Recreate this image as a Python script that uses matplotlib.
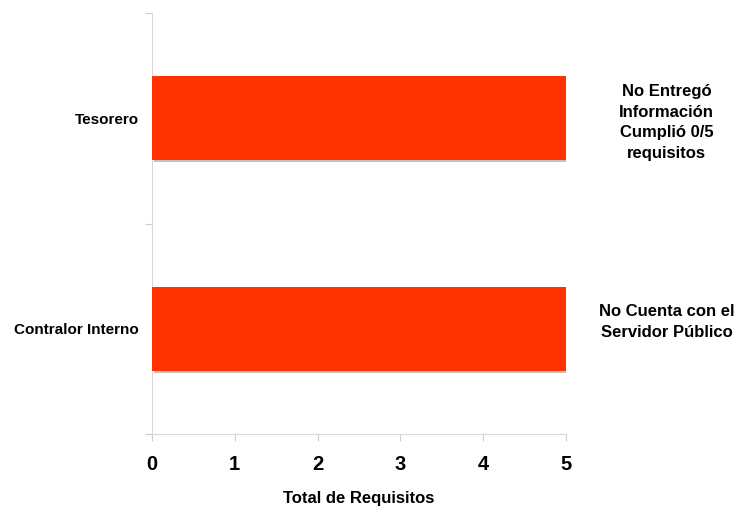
import matplotlib
matplotlib.use("Agg")
import matplotlib.pyplot as plt
import matplotlib.patheffects as pe

categories = ["Contralor Interno", "Tesorero"]
values = [5, 5]
notes = ["No Cuenta con el\nServidor Público", "No Entregó\nInformación\nCumplió 0/5\nrequisitos"]
xticks = [0, 1, 2, 3, 4, 5]
xlabel = "Total de Requisitos"

plt.rcParams['font.family'] = ['Liberation Sans', 'DejaVu Sans']

fig = plt.figure(figsize=(7.36, 5.09), dpi=100)
ax = fig.add_axes([152/736, 1-434/509, (566-152)/736, (434-13)/509])

ypos = list(range(len(categories)))
ax.barh(ypos, values, height=0.4, color="#FF3300", zorder=3,
        path_effects=[pe.SimplePatchShadow(offset=(1.5, -1.5), shadow_rgbFace="#999999", alpha=0.6), pe.Normal()])

ax.set_xlim(0, 5)
ax.set_ylim(-0.5, 1.5)
ax.set_xticks(xticks)
ax.set_xticklabels([str(t) for t in xticks], fontsize=14.5, fontweight='bold')
ax.set_yticks([-0.5, 0.5, 1.5])
ax.set_yticklabels([])
ax.set_yticks(ypos, minor=True)
ax.set_yticklabels(categories, minor=True, fontsize=11, fontweight='bold')
ax.tick_params(axis='y', which='minor', length=0, pad=9.5)
ax.tick_params(axis='y', which='major', length=5, color="#cccccc", direction='out')
ax.tick_params(axis='x', length=5, color="#cccccc", direction='out', pad=10)

for s in ['top', 'right']:
    ax.spines[s].set_visible(False)
for s in ['left', 'bottom']:
    ax.spines[s].set_color("#d9d9d9")

ax.set_xlabel(xlabel, fontsize=12, fontweight='bold', labelpad=12)

yoffs = [5, -3]
for y, note, dy in zip(ypos, notes, yoffs):
    ax.annotate(note, xy=(5, y), xycoords='data', xytext=(72.5, dy), textcoords='offset points',
                ha='center', va='center', fontsize=12, fontweight='bold', linespacing=1.45,
                annotation_clip=False)

fig.savefig("out.png", dpi=100)
